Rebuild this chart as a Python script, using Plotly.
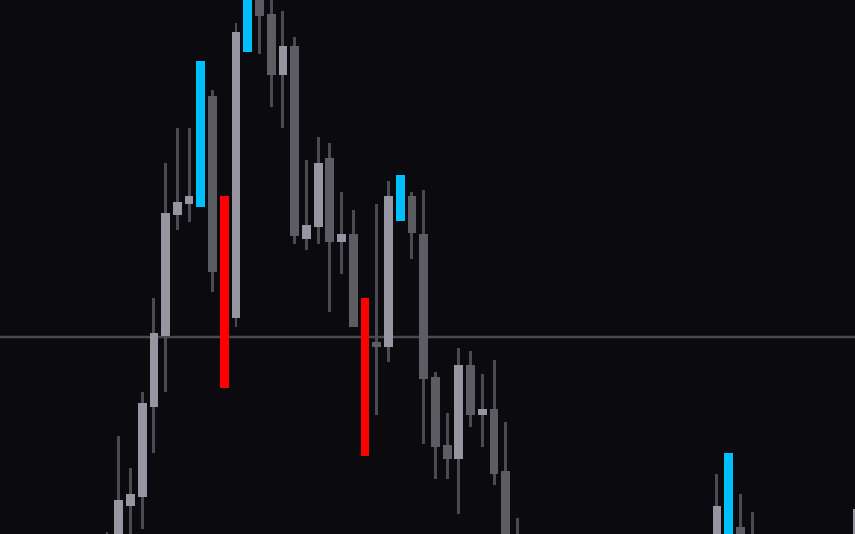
import plotly.graph_objects as go

# Candle index (bar position), OHLC prices, and candle kind
idx = [0, 1, 2, 3, 4, 5, 6, 7, 8, 9, 10, 11, 12, 13, 14, 15, 16, 17, 18, 19,
       20, 21, 22, 23, 24, 25, 26, 27, 28, 29, 30, 31, 32, 33, 34, 35,
       52, 53, 54, 55, 64]
open_ = [-16, -11, 28, 37, 127, 198, 319, 330, 327, 438, 338, 216, 482, 539, 520, 459, 488, 295, 307, 376,
         292, 300, 236, 192, 187, 313, 338, 300, 157, 89, 75, 169, 119, 125, 63, -11,
         -26, -26, 7, -11, -26]
high = [2, 98, 66, 142, 236, 371, 406, 406, 473, 444, 338, 511, 544, 549, 537, 523, 497, 374, 397, 391,
        342, 324, 236, 330, 353, 359, 342, 344, 162, 121, 186, 183, 160, 174, 112, 16,
        60, 81, 40, 22, 44]
low = [-36, -26, -11, 5, 81, 142, 304, 312, 327, 242, 146, 207, 482, 480, 427, 406, 290, 284, 290, 222,
       260, 207, 78, 119, 172, 313, 275, 90, 55, 55, 20, 107, 87, 49, -41, -56,
       -36, -26, -36, -46, -36]
close = [-26, 34, 40, 131, 201, 321, 332, 338, 473, 262, 146, 502, 544, 518, 459, 488, 298, 309, 371, 292,
         300, 207, 78, 187, 338, 359, 301, 155, 87, 75, 169, 119, 125, 60, -26, -46,
         28, 81, -26, -36, 25]
# kind: 'n' normal candle, 'b' blue highlighted, 'r' red highlighted
kind = ['n', 'n', 'n', 'n', 'n', 'n', 'n', 'n', 'b', 'n', 'r', 'n', 'b', 'n', 'n', 'n', 'n', 'n', 'n', 'n',
        'n', 'n', 'r', 'n', 'n', 'b', 'n', 'n', 'n', 'n', 'n', 'n', 'n', 'n', 'n', 'n',
        'n', 'b', 'n', 'n', 'n']
level = 197  # horizontal reference level

BG = "#0a0a0f"
UP = "#9596a1"
DOWN = "#5c5d62"
WICK = "#4a4b50"
BLUE = "#00bfff"
RED = "#ff0000"
LEVEL_C = "#464852"

body_colors = []
for o, c, k in zip(open_, close, kind):
    if k == 'b':
        body_colors.append(BLUE)
    elif k == 'r':
        body_colors.append(RED)
    else:
        body_colors.append(UP if c >= o else DOWN)

wx = [x for x, k in zip(idx, kind) if k == 'n']
wbase = [l for l, k in zip(low, kind) if k == 'n']
wlen = [h - l for h, l, k in zip(high, low, kind) if k == 'n']

fig = go.Figure()
fig.add_trace(go.Bar(x=wx, y=wlen, base=wbase, width=0.25,
                     marker=dict(color=WICK, line=dict(width=0)),
                     hoverinfo="skip", showlegend=False))
fig.add_trace(go.Bar(x=idx, y=[abs(c - o) for o, c in zip(open_, close)],
                     base=[min(o, c) for o, c in zip(open_, close)], width=0.75,
                     marker=dict(color=body_colors, line=dict(width=0)),
                     hoverinfo="skip", showlegend=False))

fig.add_hline(y=level, line=dict(color=LEVEL_C, width=2.5), layer="below")

fig.update_layout(
    width=855, height=534,
    margin=dict(l=0, r=0, t=0, b=0),
    paper_bgcolor=BG, plot_bgcolor=BG,
    barmode="overlay", bargap=0,
    xaxis=dict(range=[-9.12, 63.77], visible=False, showgrid=False, zeroline=False),
    yaxis=dict(range=[0, 534], visible=False, showgrid=False, zeroline=False),
    showlegend=False,
)

fig.write_html(
    "out.html",
    config={"displayModeBar": False, "staticPlot": True},
    post_script="document.body.style.margin='0';document.body.style.background='#0a0a0f';",
)
